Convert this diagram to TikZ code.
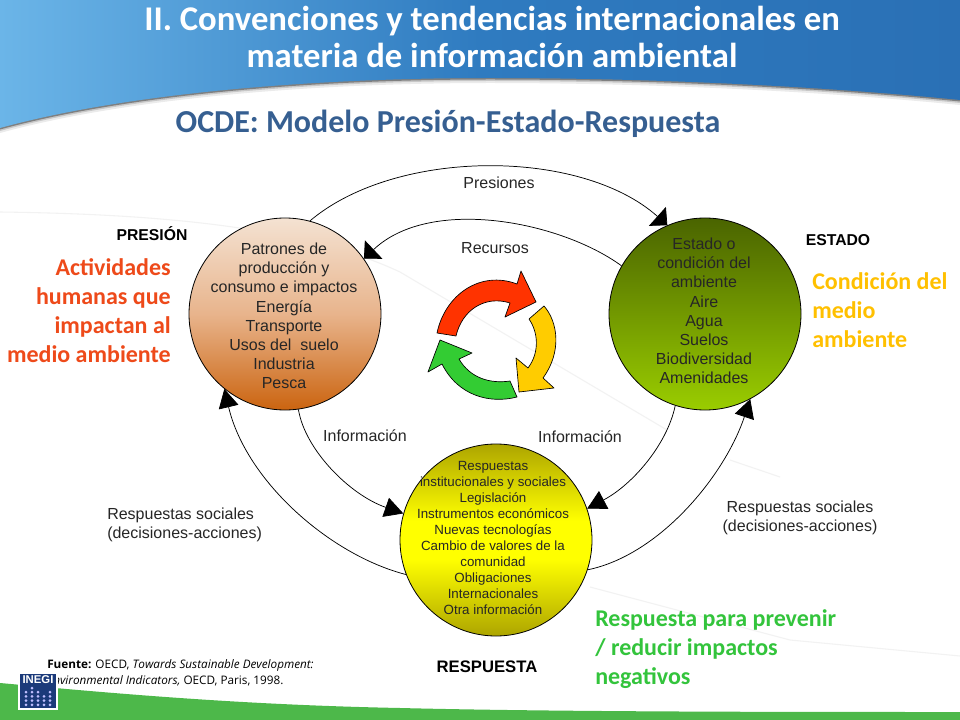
\documentclass[tikz,border=0pt]{standalone}
\usepackage{fontspec}
\setmainfont{Liberation Sans}
\newfontfamily\calfnt{Carlito}
\newfontfamily\opnfnt{Open Sans}
\usetikzlibrary{arrows.meta,calc}
\definecolor{hdl}{HTML}{6BB5E8}
\definecolor{hdm}{HTML}{2F7BC0}
\definecolor{hdr}{HTML}{2A70B5}
\definecolor{ttl}{HTML}{365F91}
\definecolor{actc}{HTML}{EE4A1A}
\definecolor{conc}{HTML}{FFC000}
\definecolor{resc}{HTML}{33C43C}
\definecolor{presbot}{HTML}{CB6410}
\definecolor{presmid}{HTML}{E8B48C}
\definecolor{prestop}{HTML}{F4E2D2}
\definecolor{estbot}{HTML}{9ACD00}
\definecolor{esttop}{HTML}{4A6400}
\definecolor{resend}{HTML}{ADA500}
\definecolor{resmid}{HTML}{FFFF00}
\definecolor{footg}{HTML}{4DB84A}
\definecolor{logob}{HTML}{1B3A7A}
\definecolor{cycr}{HTML}{FF3300}
\definecolor{cycy}{HTML}{FFCC00}
\definecolor{cycg}{HTML}{33CC33}
\pgfdeclareverticalshading{presshade}{100bp}{color(0bp)=(presbot);color(25bp)=(presbot);color(50bp)=(presmid);color(75bp)=(prestop);color(100bp)=(prestop)}
\pgfdeclareverticalshading{estshade}{100bp}{color(0bp)=(estbot);color(25bp)=(estbot);color(75bp)=(esttop);color(100bp)=(esttop)}
\pgfdeclareverticalshading{resshade}{100bp}{color(0bp)=(resend);color(25bp)=(resend);color(45bp)=(resmid);color(55bp)=(resmid);color(75bp)=(resend);color(100bp)=(resend)}
\tikzset{
 x=0.75pt,y=-0.75pt,
 bubble/.style={circle,draw=black,line width=0.6pt,minimum size=144pt,inner sep=0pt},
 bubtext/.style={align=center,font=\fontsize{12}{14.4}\selectfont,text=black!85},
 lab/.style={font=\fontsize{12}{13.8}\selectfont,align=center,text=black!85},
 head/.style={font=\fontsize{11.8}{14}\selectfont\bfseries,text=black},
 big/.style={font=\calfnt\fontsize{18}{21.8}\selectfont\bfseries},
 conn/.style={draw=black,line width=0.55pt},
 arrtop/.style={conn,-{Triangle[length=10pt,width=19pt]}},
 arrlow/.style={conn,-{Triangle[length=14pt,width=15pt]}},
 cyc/.style={draw=black,line width=0.5pt,line join=round},
 faint/.style={draw=black!5,line width=0.8pt},
}
\begin{document}
\begin{tikzpicture}
\useasboundingbox (0,0) rectangle (960,720);
\fill[white] (0,0) rectangle (960,720);
% faint background lines
\draw[faint] (0,212) .. controls (150,214) and (300,225) .. (400,272) -- (667,430);
\draw[faint] (730,460) -- (780,477);
\draw[faint] (590,587) -- (790,640) -- (960,656);
% footer
\def\footcurve{(0,683) .. controls (130,695) and (250,705) .. (400,708) .. controls (560,712) and (800,712) .. (960,712) -- (960,720) -- (0,720) -- cycle}
\foreach \d/\c in {-9/4,-6/9,-4/15,-2/25}{\fill[black!\c,yshift=\d*0.75pt] (0,683) .. controls (130,695) and (250,705) .. (400,708) .. controls (560,712) and (800,712) .. (960,712) -- (960,735) -- (0,735) -- cycle;}
\fill[footg] \footcurve;
% header
\foreach \d/\c in {5/8,3/22,1.5/50}{\fill[black!\c,yshift=-\d*0.75pt] (0,60) -- (960,60) -- (960,100) .. controls (830,87) and (660,78) .. (490,78) .. controls (300,78) and (120,95) .. (0,128) -- cycle;}
\shade[left color=hdl,right color=hdr,middle color=hdm] (0,0) -- (960,0) -- (960,100) .. controls (830,87) and (660,78) .. (490,78) .. controls (300,78) and (120,95) .. (0,128) -- cycle;
\node[font=\calfnt\fontsize{26}{27.7}\selectfont\bfseries,text=white,align=center] (title) at (492,37) {II. Convenciones y tendencias internacionales en\\materia de información ambiental};
\node[font=\calfnt\fontsize{24}{26}\selectfont\bfseries,text=ttl] (sub) at (448,124) {OCDE: Modelo Presión-Estado-Respuesta};
% bubbles
\node[bubble,shading=presshade] (pres) at (285,314) {};
\node[bubble,shading=estshade] (est) at (705,314) {};
\node[bubble,shading=resshade] (res) at (496,540) {};
\node[bubtext] (prest) at (284,316) {Patrones de\\producción y\\consumo e impactos\\Energía\\Transporte\\Usos del\ \ suelo\\Industria\\Pesca};
\node[bubtext] (estt) at (704,311) {Estado o\\condición del\\ambiente\\Aire\\Agua\\Suelos\\Biodiversidad\\Amenidades};
\node[bubtext,font=\fontsize{10}{12}\selectfont] (rest) at (493,538) {Respuestas\\institucionales y sociales\\Legislación\\Instrumentos económicos\\Nuevas tecnologías\\Cambio de valores de la\\comunidad\\Obligaciones\\Internacionales\\Otra información};
% connectors
\draw[arrtop] (pres.75) .. controls (396,148) and (581,148) .. (est.113);
\draw[arrtop] (est.150.5) .. controls (560,221) and (430,196) .. (pres.35);
\draw[arrlow] (pres.-82) .. controls (305,450) and (350,495) .. (res.164);
\draw[arrlow] (est.-108) .. controls (667,445) and (632,485) .. (res.19);
\draw[arrlow] (res.201.5) .. controls (330,555) and (246,481) .. (pres.231);
\draw[arrlow] (res.-18) .. controls (660,555) and (725,475) .. (est.-62);
% labels
\node[lab] (lp) at (499,183) {Presiones};
\node[lab] (lr) at (495,248) {Recursos};
\node[lab] (li1) at (365,436) {Información};
\node[lab] (li2) at (580,437) {Información};
\node[lab,font=\fontsize{12}{14}\selectfont,align=left,anchor=west,inner xsep=0pt] (ls1) at (107,525) {Respuestas sociales\\(decisiones-acciones)};
\node[lab] (ls2) at (800,518) {Respuestas sociales\\(decisiones-acciones)};
\node[head] (hp) at (152,234) {PRESIÓN};
\node[head] (he) at (838,240) {ESTADO};
\node[head,font=\fontsize{12.5}{14}\selectfont\bfseries] (hr) at (487,667) {RESPUESTA};
\node[big,text=actc,align=right,anchor=north east,inner xsep=0pt] (act) at (171,254) {Actividades\\humanas que\\impactan al\\medio ambiente};
\node[big,text=conc,align=left,anchor=north west,inner xsep=0pt] (con) at (812,268) {Condición del\\medio\\ambiente};
\node[big,text=resc,align=left,anchor=north west,inner xsep=0pt] (resp) at (595,605) {Respuesta para prevenir\\/ reducir impactos\\negativos};
% cycle arrows
\filldraw[cyc,fill=cycr] (437,333) .. controls (445,295) and (480,270) .. (517,284) -- (521,271) -- (536,302) -- (505,317) -- (510,303) .. controls (485,295) and (462,310) .. (456,336) -- cycle;
\filldraw[cyc,fill=cycy] (544,306) .. controls (558,322) and (562,352) .. (543,378) -- (554,388) -- (519,392) -- (516,358) -- (528,368) .. controls (540,352) and (538,332) .. (529,319) -- cycle;
\filldraw[cyc,fill=cycg] (517,397) .. controls (490,404) and (458,396) .. (442,364) -- (428,372) -- (440,340) -- (472,353) -- (459,359) .. controls (470,378) and (490,384) .. (510,381) -- cycle;
% source
\node[font=\opnfnt\fontsize{8.8}{12}\selectfont,align=left,anchor=north west,inner sep=0pt] (src) at (47,659) {\textbf{Fuente:} OECD, \textit{Towards Sustainable Development:}\\\textit{Environmental Indicators,} OECD, Paris, 1998.};
% logo
\filldraw[draw=white,line width=1pt,fill=logob] (19,673) rectangle (57,709);
\node[font=\fontsize{8.5}{9}\selectfont\bfseries,text=white,inner sep=0pt] (logo) at (38,680) {INEGI};
\foreach \x/\n in {26/4,32/5,38/4,44/3,50/4} \foreach \i in {1,...,\n} \fill[white!75!blue] (\x,709-\i*4.2) circle (1.5);
\end{tikzpicture}
\end{document}
